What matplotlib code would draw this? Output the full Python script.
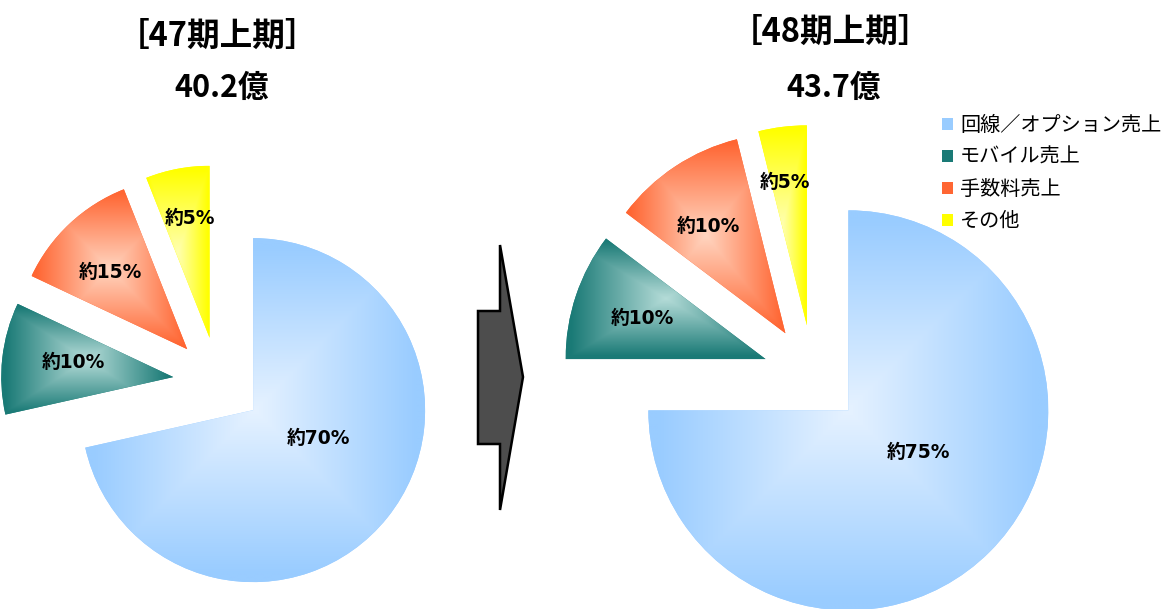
import numpy as np
import matplotlib
matplotlib.use("Agg")
import matplotlib.pyplot as plt
from matplotlib.colors import to_rgb
from matplotlib.patches import Polygon

plt.rcParams['font.family'] = ['Noto Sans CJK JP', 'DejaVu Sans']

# data
categories = ["回線／オプション売上", "モバイル売上", "手数料売上", "その他"]
share_47 = [71.5, 10.5, 12.0, 6.0]
share_48 = [75.0, 10.3, 10.8, 3.9]
labels_47 = ["約70%", "約10%", "約15%", "約5%"]
labels_48 = ["約75%", "約10%", "約10%", "約5%"]
titles = ["［47期上期］", "［48期上期］"]
totals = ["40.2億", "43.7億"]

edge_cols = ["#99ccff", "#1a7a76", "#ff6633", "#ffff00"]
center_cols = ["#e6f2ff", "#b5dcd8", "#ffd5c0", "#ffffb0"]

W, H = 1166, 609
fig = plt.figure(figsize=(W / 100, H / 100), dpi=100)
ax = fig.add_axes([0, 0, 1, 1])


def img_xy(x, y):
    # picture pixel -> data coords (y up)
    return x, H - y


def gradient_pie(values, center, radius, explode):
    # explode is in data units here (pixels)
    wedges, _ = ax.pie(values, explode=[explode] * len(values), center=center,
                       radius=radius, startangle=90, counterclock=False,
                       colors=edge_cols, wedgeprops=dict(linewidth=0), frame=True)
    g = np.linspace(-1, 1, 300)
    u, v = np.meshgrid(g, g)
    t = np.clip(np.maximum(abs(u), abs(v)) / 0.95, 0, 1)[..., None]
    for w, c0, c1 in zip(wedges, center_cols, edge_cols):
        bb = w.get_path().get_extents()
        img = (1 - t) * np.array(to_rgb(c0)) + t * np.array(to_rgb(c1))
        im = ax.imshow(img, extent=(bb.x0, bb.x1, bb.y0, bb.y1), origin='lower',
                       interpolation='bilinear', zorder=w.get_zorder() + 0.1)
        im.set_clip_path(w)
    return wedges


gradient_pie(share_47, img_xy(218, 382), 172, 45)
wedges = gradient_pie(share_48, img_xy(813, 375), 200, 50)

# slice labels (wider latin digits, CJK fallback for 約)
pos_47 = [(318, 438), (73, 363), (110, 272), (190, 218)]
pos_48 = [(918, 452), (642, 318), (708, 226), (785, 182)]
for labs, pos in [(labels_47, pos_47), (labels_48, pos_48)]:
    for lab, (x, y) in zip(labs, pos):
        ax.text(*img_xy(x, y), lab, ha='center', va='center', fontsize=13.5,
                fontweight='bold', family=['DejaVu Sans', 'Noto Sans CJK JP'],
                zorder=5)

# titles
for title, total, (tx, ty), (sx, sy) in zip(titles, totals,
                                            [(217, 36), (830, 32)],
                                            [(222, 88), (834, 88)]):
    ax.text(*img_xy(tx, ty), title, ha='center', va='center', fontsize=23.5,
            fontweight='bold')
    ax.text(*img_xy(sx, sy), total, ha='center', va='center', fontsize=22,
            fontweight='bold')

# arrow
arrow = [(478, 311), (500, 311), (500, 245), (523, 377), (500, 510), (500, 444), (478, 444)]
ax.add_patch(Polygon([img_xy(x, y) for x, y in arrow], closed=True,
                     facecolor='#4d4d4d', edgecolor='black', linewidth=1.8))

ax.legend(wedges, categories, loc='upper left', bbox_to_anchor=(942 / W, 1 - 115 / H),
          frameon=False, fontsize=14.5, handlelength=0.55, handleheight=0.55,
          handletextpad=0.35, labelspacing=0.55, borderpad=0, borderaxespad=0)

ax.set_xlim(0, W)
ax.set_ylim(0, H)
ax.set_aspect('equal')
ax.axis('off')

fig.savefig('out.png', dpi=100)
